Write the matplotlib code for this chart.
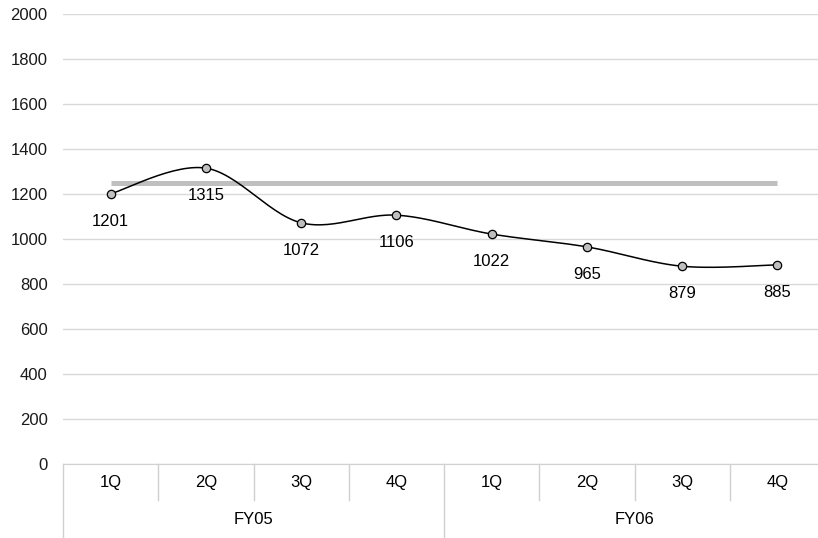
import numpy as np
import matplotlib.pyplot as plt

plt.rcParams['font.family'] = ['Liberation Sans', 'DejaVu Sans']

quarters = ["1Q", "2Q", "3Q", "4Q", "1Q", "2Q", "3Q", "4Q"]
years = ["FY05", "FY06"]
values = [1201, 1315, 1072, 1106, 1022, 965, 879, 885]
target = [1250] * 8


def smooth(x, y, n=30):
    # catmull-rom style curve like the office chart smoothing
    x = np.asarray(x, float)
    y = np.asarray(y, float)
    px = np.concatenate([[x[0]], x, [x[-1]]])
    py = np.concatenate([[y[0]], y, [y[-1]]])
    xs, ys = [], []
    t = np.linspace(0, 1, n)
    for i in range(1, len(px) - 2):
        p0, p1, p2, p3 = (np.array([px[j], py[j]]) for j in range(i - 1, i + 3))
        c1 = p1 + (p2 - p0) / 6
        c2 = p2 - (p3 - p1) / 6
        b = ((1 - t) ** 3)[:, None] * p1 + (3 * (1 - t) ** 2 * t)[:, None] * c1 \
            + (3 * (1 - t) * t ** 2)[:, None] * c2 + (t ** 3)[:, None] * p2
        xs.extend(b[:, 0])
        ys.extend(b[:, 1])
    return xs, ys


fig = plt.figure(figsize=(8.18, 5.38), dpi=100)
ax = fig.add_axes([63 / 818, 74 / 538, 762 / 818, 450 / 538])

x = np.arange(len(values))
ax.plot(x, target, color="#bfbfbf", lw=3.6, solid_capstyle="butt", zorder=2)
sx, sy = smooth(x, values)
ax.plot(sx, sy, color="black", lw=1.1, zorder=3)
ax.plot(x, values, ls="none", marker="o", ms=6, mfc="#bfbfbf", mec="black",
        mew=0.9, zorder=4)
for xi, v in zip(x, values):
    ax.annotate(str(v), (xi, v), xytext=(0, -14.5), textcoords="offset points",
                ha="center", va="top", fontsize=12, color="black")

ax.set_xlim(-0.5, len(values) - 0.5)
ax.set_ylim(0, 2000)
ax.set_yticks(range(0, 2001, 200))
ax.tick_params(axis="y", length=0, labelsize=12, labelcolor="#1a1a1a", pad=11)
ax.set_xticks([])
ax.grid(axis="y", color="#d9d9d9", lw=1)
ax.set_axisbelow(True)
for s in ["top", "right", "left"]:
    ax.spines[s].set_visible(False)
ax.spines["bottom"].set_color("#d0d0d0")

# multi-level category axis
trans = ax.get_xaxis_transform()
q_h = 36 / 450
y_h = 74 / 450
for i, q in enumerate(quarters):
    ax.text(i, -18 / 450, q, transform=trans, ha="center", va="center",
            fontsize=12, clip_on=False)
for i in range(len(quarters) + 1):
    edge = i - 0.5
    h = y_h if i % 4 == 0 else q_h
    ax.plot([edge, edge], [0, -h], transform=trans, color="#d0d0d0", lw=1,
            clip_on=False)
for j, yr in enumerate(years):
    ax.text(j * 4 + 1.5, -56 / 450, yr, transform=trans, ha="center",
            va="center", fontsize=12, clip_on=False)

fig.savefig("out.png", dpi=100)
